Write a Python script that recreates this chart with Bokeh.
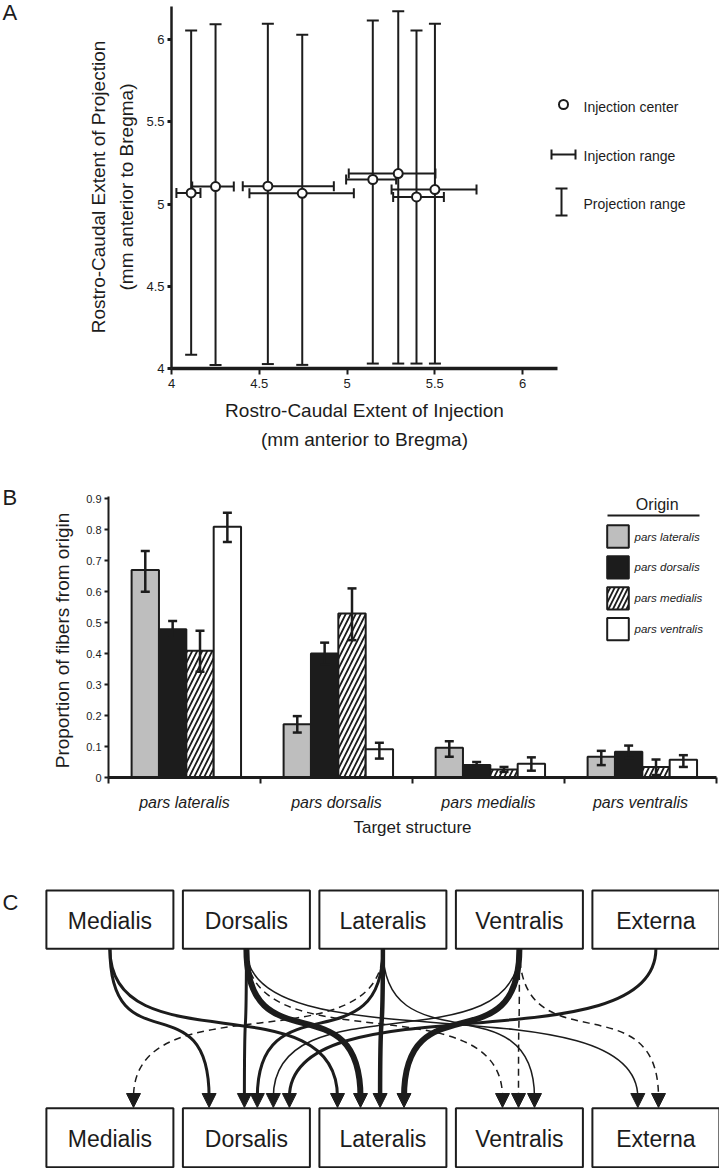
import math
from bokeh.plotting import figure
from bokeh.layouts import column
from bokeh.models import (ColumnDataSource, Whisker, TeeHead, Label, FixedTicker,
                          Range1d, Arrow, NormalHead)
from bokeh.embed import file_html
from bokeh.resources import INLINE
from bokeh.core.properties import value

FONT = "Liberation Sans"
INK = "#1c1c1c"

# ---------------- Panel A data ----------------
inj_center = [4.112, 4.251, 4.549, 4.745, 5.147, 5.292, 5.396, 5.501]
inj_lo = [4.028, 4.118, 4.406, 4.444, 4.995, 5.010, 5.263, 5.254]
inj_hi = [4.165, 4.355, 4.925, 5.039, 5.280, 5.504, 5.552, 5.738]
proj_center = [5.067, 5.106, 5.108, 5.065, 5.149, 5.185, 5.043, 5.088]
proj_lo = [4.083, 4.022, 4.027, 4.022, 4.030, 4.030, 4.030, 4.030]
proj_hi = [6.055, 6.092, 6.096, 6.029, 6.116, 6.171, 6.055, 6.096]
a_ticks = [4, 4.5, 5, 5.5, 6]
a_tick_labels = ["4", "4.5", "5", "5.5", "6"]
a_legend_labels = ["Injection center", "Injection range", "Projection range"]
a_xtitle = ["Rostro-Caudal Extent of Injection", "(mm anterior to Bregma)"]
a_ytitle = ["Rostro-Caudal Extent of Projection", "(mm anterior to Bregma)"]

# ---------------- Panel B data ----------------
targets = ["pars lateralis", "pars dorsalis", "pars medialis", "pars ventralis"]
origins = ["pars lateralis", "pars dorsalis", "pars medialis", "pars ventralis"]
from_lateralis = [0.669, 0.172, 0.096, 0.067]
from_lateralis_lo = [0.599, 0.145, 0.067, 0.040]
from_lateralis_hi = [0.731, 0.198, 0.117, 0.086]
from_dorsalis = [0.478, 0.400, 0.040, 0.083]
from_dorsalis_lo = [0.451, 0.365, 0.030, 0.063]
from_dorsalis_hi = [0.505, 0.435, 0.050, 0.103]
from_medialis = [0.409, 0.529, 0.026, 0.034]
from_medialis_lo = [0.341, 0.443, 0.018, 0.008]
from_medialis_hi = [0.473, 0.610, 0.034, 0.058]
from_ventralis = [0.809, 0.091, 0.044, 0.057]
from_ventralis_lo = [0.760, 0.061, 0.022, 0.034]
from_ventralis_hi = [0.854, 0.112, 0.065, 0.072]
b_ticks = [0, 0.1, 0.2, 0.3, 0.4, 0.5, 0.6, 0.7, 0.8, 0.9]
b_tick_labels = ["0", "0.1", "0.2", "0.3", "0.4", "0.5", "0.6", "0.7", "0.8", "0.9"]

# ---------------- Panel C data ----------------
nuclei = ["Medialis", "Dorsalis", "Lateralis", "Ventralis", "Externa"]
edge_src = ["Medialis", "Medialis", "Dorsalis", "Dorsalis", "Dorsalis", "Dorsalis",
            "Lateralis", "Lateralis", "Lateralis", "Lateralis",
            "Ventralis", "Ventralis", "Ventralis", "Ventralis", "Externa"]
edge_dst = ["Dorsalis", "Lateralis", "Dorsalis", "Lateralis", "Ventralis", "Externa",
            "Medialis", "Dorsalis", "Lateralis", "Ventralis",
            "Dorsalis", "Lateralis", "Ventralis", "Externa", "Dorsalis"]
edge_strength = [2, 2, 2, 4, 1, 1, 1, 2, 3, 1, 1, 4, 1, 1, 2]
edge_dashed = [False, False, False, False, True, False, True, False, False, False,
               False, False, True, True, False]

# ---------------- styles / layout ----------------
origin_fill = ["#bebebe", INK, "white", "white"]
origin_hatch = [None, None, "/", None]
bar_offsets = [-0.258, -0.078, 0.102, 0.282]
strength_width = {1: 1.5, 2: 3.0, 3: 4.5, 4: 6.0}
arrive_dx = [-37.3, -45.4, -2.0, -22.4, -16.9, -18.1, 23.6, 10.9, -2.8, 15.1,
             26.9, 21.1, -0.9, 2.6, 43.0]
W = 719


def style_axis(axis, line_w, tick_out, tick_w, size):
    axis.axis_line_width = line_w
    axis.axis_line_color = INK
    axis.major_tick_line_color = INK
    axis.major_tick_line_width = tick_w
    axis.major_tick_out = tick_out
    axis.major_tick_in = 0
    axis.minor_tick_line_color = None
    axis.major_label_text_font = FONT
    axis.major_label_text_font_size = size
    axis.major_label_text_color = INK


def label(p, x, y, text, size, angle=0.0, align="center", style="normal"):
    p.add_layout(Label(x=x, y=y, text=text, angle=angle, text_align=align,
                       text_baseline="middle", text_font=FONT, text_font_size=size,
                       text_color=INK, text_font_style=style))


def bare_figure(height, xr, yr):
    p = figure(width=W, height=height, x_range=xr, y_range=yr,
               output_backend="svg", toolbar_location=None,
               min_border_left=0, min_border_right=0, min_border_top=0, min_border_bottom=0)
    p.grid.visible = False
    p.outline_line_color = None
    return p


# ================= Panel A (page y 0..478) =================
def ax(px):
    return 4 + (px - 171) / 175.5


def ay(py):
    return 4 + (368 - py) / 164.5


HA = 478
pA = bare_figure(HA, Range1d(ax(0), ax(W)), Range1d(ay(HA), ay(0)))
xa = pA.xaxis[0]
style_axis(xa, 3.5, 6, 2, "13px")
xa.fixed_location = 4
xa.bounds = (4, 6.2)
xa.ticker = FixedTicker(ticks=a_ticks)
xa.major_label_overrides = dict(zip(a_ticks, a_tick_labels))
xa.major_label_standoff = 4
ya = pA.yaxis[0]
style_axis(ya, 2.5, 4, 3, "13px")
ya.fixed_location = 4
ya.bounds = (4, ay(6))
ya.ticker = FixedTicker(ticks=a_ticks)
ya.major_label_overrides = dict(zip(a_ticks, a_tick_labels))
ya.major_label_standoff = 3

srcA = ColumnDataSource(dict(x=inj_center, y=proj_center, ilo=inj_lo, ihi=inj_hi,
                             plo=proj_lo, phi=proj_hi))
pA.add_layout(Whisker(source=srcA, base="x", lower="plo", upper="phi", dimension="height",
                      line_color=INK, line_width=2, level="underlay",
                      lower_head=TeeHead(size=12, line_width=2, line_color=INK),
                      upper_head=TeeHead(size=12, line_width=2, line_color=INK)))
pA.add_layout(Whisker(source=srcA, base="y", lower="ilo", upper="ihi", dimension="width",
                      line_color=INK, line_width=2, level="underlay",
                      lower_head=TeeHead(size=10, line_width=2, line_color=INK),
                      upper_head=TeeHead(size=10, line_width=2, line_color=INK)))
pA.scatter("x", "y", source=srcA, size=9, fill_color="white", line_color=INK, line_width=2)

# legend of panel A
pA.scatter([ax(563)], [ay(104)], size=9, fill_color="white", line_color=INK, line_width=2)
legA1 = ColumnDataSource(dict(y=[ay(154)], lo=[ax(551)], hi=[ax(575)]))
pA.add_layout(Whisker(source=legA1, base="y", lower="lo", upper="hi", dimension="width",
                      line_color=INK, line_width=2,
                      lower_head=TeeHead(size=10, line_width=2, line_color=INK),
                      upper_head=TeeHead(size=10, line_width=2, line_color=INK)))
legA2 = ColumnDataSource(dict(x=[ax(561)], lo=[ay(215)], hi=[ay(188)]))
pA.add_layout(Whisker(source=legA2, base="x", lower="lo", upper="hi", dimension="height",
                      line_color=INK, line_width=2,
                      lower_head=TeeHead(size=12, line_width=2, line_color=INK),
                      upper_head=TeeHead(size=12, line_width=2, line_color=INK)))
for txt, py in zip(a_legend_labels, [106, 155, 203]):
    label(pA, ax(583), ay(py), txt, "14px", align="left")

label(pA, ax(98), ay(186.5), a_ytitle[0], "19px", angle=math.pi / 2)
label(pA, ax(126), ay(186.5), a_ytitle[1], "19px", angle=math.pi / 2)
label(pA, ax(364), ay(410), a_xtitle[0], "19px")
label(pA, ax(364), ay(439), a_xtitle[1], "19px")
label(pA, ax(2), ay(12), "A", "22px", align="left")


# ================= Panel B (page y 478..845) =================
def bx(px):
    return (px - 108) / 152


B0, B1 = 478, 845


def by(py):
    return (777 - py) / 310


pB = bare_figure(B1 - B0, Range1d(bx(0), bx(W)), Range1d(by(B1), by(B0)))

means = [from_lateralis, from_dorsalis, from_medialis, from_ventralis]
lows = [from_lateralis_lo, from_dorsalis_lo, from_medialis_lo, from_ventralis_lo]
highs = [from_lateralis_hi, from_dorsalis_hi, from_medialis_hi, from_ventralis_hi]
centers = [i + 0.5 for i in range(len(targets))]
for k in range(len(origins)):
    src = ColumnDataSource(dict(x=[c + bar_offsets[k] for c in centers], top=means[k],
                                lo=lows[k], hi=highs[k]))
    pB.vbar(x="x", top="top", width=0.18, source=src, fill_color=origin_fill[k],
            line_color=INK, line_width=2, hatch_pattern=origin_hatch[k],
            hatch_color=INK, hatch_weight=1.8, hatch_scale=10)
    pB.add_layout(Whisker(source=src, base="x", lower="lo", upper="hi", dimension="height",
                          line_color=INK, line_width=2.5, level="overlay",
                          lower_head=TeeHead(size=9, line_width=2.5, line_color=INK),
                          upper_head=TeeHead(size=9, line_width=2.5, line_color=INK)))

xb = pB.xaxis[0]
style_axis(xb, 3, 0, 2, "16px")
xb.fixed_location = 0
xb.bounds = (0, 4)
xb.major_tick_line_color = None
xb.ticker = FixedTicker(ticks=centers, minor_ticks=[0, 1, 2, 3, 4])
xb.minor_tick_line_color = INK
xb.minor_tick_line_width = 2
xb.minor_tick_out = 6
xb.minor_tick_in = 0
xb.major_label_overrides = dict(zip(centers, targets))
xb.major_label_text_font_style = "italic"
xb.major_label_standoff = 10
yb = pB.yaxis[0]
style_axis(yb, 2, 4, 2, "11px")
yb.fixed_location = 0
yb.bounds = (0, 0.905)
yb.ticker = FixedTicker(ticks=b_ticks)
yb.major_label_overrides = dict(zip(b_ticks, b_tick_labels))
yb.major_label_standoff = 3

# legend of panel B
for k in range(len(origins)):
    pB.rect(x=[bx(617.5)], y=[by(536 + 30.9 * k)], width=21.6 / 152, height=22.3 / 310,
            fill_color=origin_fill[k], line_color=INK, line_width=2,
            hatch_pattern=origin_hatch[k], hatch_color=INK, hatch_weight=1.8, hatch_scale=9)
    label(pB, bx(634), by(536 + 30.9 * k), origins[k], "11.5px", align="left", style="italic")
pB.segment(x0=[bx(607)], y0=[by(515)], x1=[bx(699)], y1=[by(515)], line_color=INK, line_width=2)
label(pB, bx(656.7), by(504), "Origin", "16px")

label(pB, bx(62), by(640), "Proportion of fibers from origin", "19px", angle=math.pi / 2)
label(pB, 2.0, by(827), "Target structure", "17px")
label(pB, bx(2), by(497), "B", "22px", align="left")

# ================= Panel C (page y 845..1168) =================
pC = bare_figure(1168 - B1, Range1d(0, W), Range1d(1168, B1))
pC.xaxis.visible = False
pC.yaxis.visible = False

box_left = [45.9 + 136.5 * i for i in range(len(nuclei))]
box_w = 127.0
box_cx = [l + box_w / 2 for l in box_left]
TOP_Y0, TOP_Y1 = 890.0, 948.3
BOT_Y0, BOT_Y1 = 1107.7, 1166.7

for (y0, y1) in [(TOP_Y0, TOP_Y1), (BOT_Y0, BOT_Y1)]:
    pC.quad(left=box_left, right=[l + box_w for l in box_left], top=[y0] * 5, bottom=[y1] * 5,
            fill_color="white", line_color=INK, line_width=2)
    pC.text(x=box_cx, y=[(y0 + y1) / 2 + 1] * 5, text=nuclei, text_align="center",
            text_baseline="middle", text_font=value(FONT), text_font_size="23px",
            text_color=INK)

idx = {n: i for i, n in enumerate(nuclei)}
TIP = 1107.0
LINE_END = 1097.0
for dashed in (False, True):
    sel = [i for i in range(len(edge_src)) if edge_dashed[i] == dashed]
    x0 = [box_cx[idx[edge_src[i]]] for i in sel]
    x1 = [box_cx[idx[edge_dst[i]]] + arrive_dx[i] for i in sel]
    h = LINE_END - TOP_Y1
    pC.bezier(x0=x0, y0=[TOP_Y1] * len(sel), x1=x1, y1=[LINE_END] * len(sel),
              cx0=x0, cy0=[TOP_Y1 + 0.8 * h] * len(sel),
              cx1=x1, cy1=[LINE_END - 0.8 * h] * len(sel),
              line_color=INK, line_width=[strength_width[edge_strength[i]] for i in sel],
              line_dash="7 5" if dashed else "solid")

tips_x = [box_cx[idx[edge_dst[i]]] + arrive_dx[i] for i in range(len(edge_src))]
arr_src = ColumnDataSource(dict(xs=tips_x, ys=[TIP - 14] * len(tips_x), xe=tips_x,
                                ye=[TIP] * len(tips_x)))
pC.add_layout(Arrow(source=arr_src, x_start="xs", y_start="ys", x_end="xe", y_end="ye",
                    line_color=INK, line_width=1,
                    end=NormalHead(size=14, fill_color=INK, line_color=INK, line_width=1)))
label(pC, 2, 902, "C", "22px", align="left")

layout = column(pA, pB, pC)
open("out.html", "w").write(file_html(layout, INLINE))
